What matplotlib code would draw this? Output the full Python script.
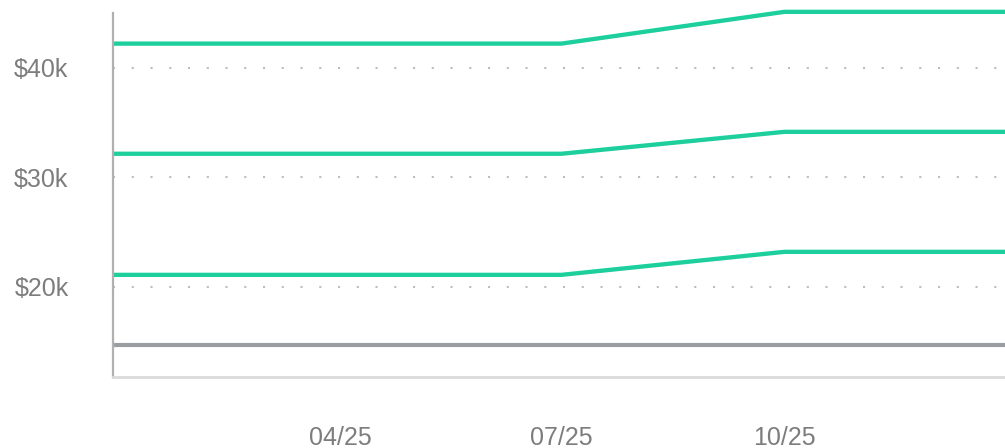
import pandas as pd
import matplotlib
from matplotlib import pyplot as plt
import matplotlib.dates as mdates

matplotlib.rcParams.update({
    "font.family": ["Liberation Sans", "DejaVu Sans"],
    "font.size": 18,
})

# key dates of the series (flat, then a rise Jul -> Oct, then flat)
dates = pd.to_datetime(["2024-12-28", "2025-07-01", "2025-10-01", "2025-12-31"])
upper = [42.2, 42.2, 45.1, 45.1]     # $k
middle = [32.15, 32.15, 34.15, 34.15]
lower = [21.1, 21.1, 23.2, 23.2]
base = [14.68, 14.68, 14.68, 14.68]

yticks = [20, 30, 40]
ytick_labels = ["$20k", "$30k", "$40k"]
xticks = pd.to_datetime(["2025-04-01", "2025-07-01", "2025-10-01"])

green = "#1ccf9c"
fig = plt.figure(figsize=(10.05, 4.48), dpi=100)
ax = fig.add_axes([113 / 1005, 71 / 448, 1 - 113 / 1005, 1 - 71 / 448])

for ys in (upper, middle, lower):
    ax.plot(dates, ys, color=green, linewidth=3.1, solid_capstyle="butt")
ax.plot(dates, base, color="#9a9ea3", linewidth=3.0, solid_capstyle="butt")

for y in yticks:
    ax.axhline(y, color="#bdbdbd", linewidth=1.5, linestyle=(0, (1, 8)), zorder=0)

ax.set_ylim(11.78, 46.18)
ax.set_xlim(pd.Timestamp("2024-12-28"), pd.Timestamp("2025-12-31"))

ax.set_yticks(yticks)
ax.set_yticklabels(ytick_labels)
ax.set_xticks(xticks)
ax.xaxis.set_major_formatter(mdates.DateFormatter("%m/%y"))
ax.tick_params(axis="y", length=0, pad=32, colors="#7d7d7d")
ax.tick_params(axis="x", length=0, pad=35, colors="#7d7d7d")

for side in ("top", "right"):
    ax.spines[side].set_visible(False)
ax.spines["left"].set_color("#b0b0b0")
ax.spines["left"].set_linewidth(1.6)
ax.spines["left"].set_bounds(11.78, 45.0)
ax.spines["bottom"].set_color("#dadada")
ax.spines["bottom"].set_linewidth(2)

plt.savefig("out.png", dpi=100)
